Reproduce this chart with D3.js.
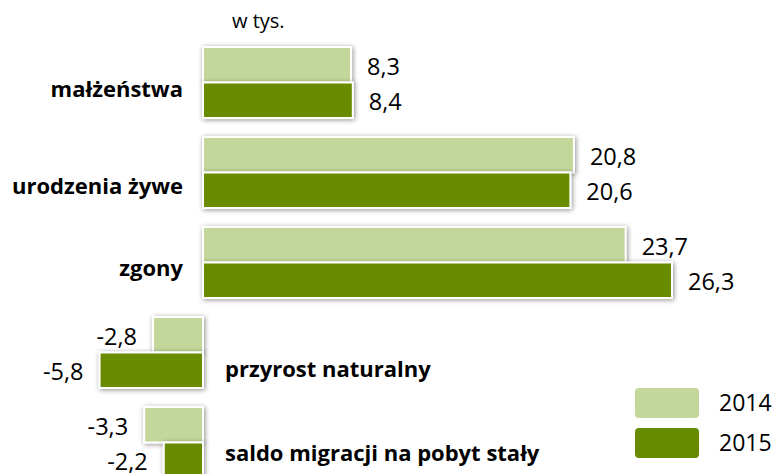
<!DOCTYPE html>
<html>
<head>
<meta charset="utf-8">
<script src="https://cdn.jsdelivr.net/npm/d3@7"></script>
<style>
  body { margin: 0; background: #fff; }
  svg { display: block; }
  text { font-family: "Open Sans", sans-serif; fill: #000; }
</style>
</head>
<body>
<div class="chart"></div>
<script>
// data
var categories = ["małżeństwa", "urodzenia żywe", "zgony", "przyrost naturalny", "saldo migracji na pobyt stały"];
var series = ["2014", "2015"];
var values2014 = [8.3, 20.8, 23.7, -2.8, -3.3];
var values2015 = [8.4, 20.6, 26.3, -5.8, -2.2];
var colors = ["#c4d79b", "#678b00"];

// small vertical nudges of the category labels, as placed in the original
var labelShift = [7, 14, 6, 17, 11];

var svgx = 775, svgy = 474;

var svg = d3.select(".chart")
    .append("svg")
    .attr("width", svgx)
    .attr("height", svgy);

// shadow for bars
var defs = svg.append("defs");
defs.append("filter")
    .attr("id", "shadow")
    .attr("x", "-20%").attr("y", "-40%")
    .attr("width", "140%").attr("height", "180%")
    .append("feDropShadow")
    .attr("dx", 1).attr("dy", 1)
    .attr("stdDeviation", 2.5)
    .attr("flood-color", "#000")
    .attr("flood-opacity", 0.45);

var rows = categories.map(function(c, i) {
    return {cat: c, vals: [values2014[i], values2015[i]], shift: labelShift[i]};
});

// scales
var xscale = d3.scaleLinear().domain([0, 26.3]).range([203, 672]);
var yscale = d3.scaleBand().domain(categories).range([47, 478]).paddingInner(0.211);
var yinner = d3.scaleBand().domain(series).range([0, yscale.bandwidth()]);

var fmt = function(v) { return (v < 0 ? "-" : "") + d3.format(".1f")(Math.abs(v)).replace(".", ","); };

svg.append("text")
    .attr("x", 232)
    .attr("y", 21)
    .attr("dy", "0.35em")
    .attr("font-size", "20px")
    .text("w tys.");

var group = svg.selectAll(".grp")
    .data(rows)
    .enter()
    .append("g")
    .attr("class", "grp")
    .attr("transform", function(d) { return "translate(0," + yscale(d.cat) + ")"; });

group.selectAll("rect")
    .data(function(d) { return d.vals.map(function(v, j) { return {v: v, s: series[j], j: j}; }); })
    .enter()
    .append("rect")
    .attr("x", function(d) { return xscale(Math.min(0, d.v)); })
    .attr("y", function(d) { return yinner(d.s); })
    .attr("width", function(d) { return Math.abs(xscale(d.v) - xscale(0)); })
    .attr("height", yinner.bandwidth())
    .attr("fill", function(d) { return colors[d.j]; })
    .attr("stroke", "#fff")
    .attr("stroke-width", 2)
    .attr("filter", "url(#shadow)");

// value labels
group.selectAll(".val")
    .data(function(d) { return d.vals.map(function(v, j) { return {v: v, s: series[j]}; }); })
    .enter()
    .append("text")
    .attr("class", "val")
    .attr("x", function(d) { return d.v >= 0 ? xscale(d.v) + 16 : xscale(d.v) - 16; })
    .attr("y", function(d) { return yinner(d.s) + yinner.bandwidth() / 2 + 2; })
    .attr("dy", "0.35em")
    .attr("font-size", "23.5px")
    .style("text-anchor", function(d) { return d.v >= 0 ? "start" : "end"; })
    .text(function(d) { return fmt(d.v); });

// category labels
group.append("text")
    .attr("x", function(d) { return d.vals[0] >= 0 ? xscale(0) - 20 : xscale(0) + 22; })
    .attr("y", function(d) { return yscale.bandwidth() / 2 + d.shift; })
    .attr("dy", "0.35em")
    .attr("font-size", "22px")
    .attr("font-weight", "bold")
    .style("text-anchor", function(d) { return d.vals[0] >= 0 ? "end" : "start"; })
    .text(function(d) { return d.cat; });

// legend
var legend = svg.selectAll(".legend")
    .data(series)
    .enter()
    .append("g")
    .attr("class", "legend")
    .attr("transform", function(d, i) { return "translate(635," + (388 + i * 40) + ")"; });

legend.append("rect")
    .attr("width", 64)
    .attr("height", 30)
    .attr("rx", 4)
    .attr("fill", function(d, i) { return colors[i]; });

legend.append("text")
    .attr("x", 84)
    .attr("y", 15)
    .attr("dy", "0.35em")
    .attr("font-size", "23px")
    .text(function(d) { return d; });
</script>
</body>
</html>
